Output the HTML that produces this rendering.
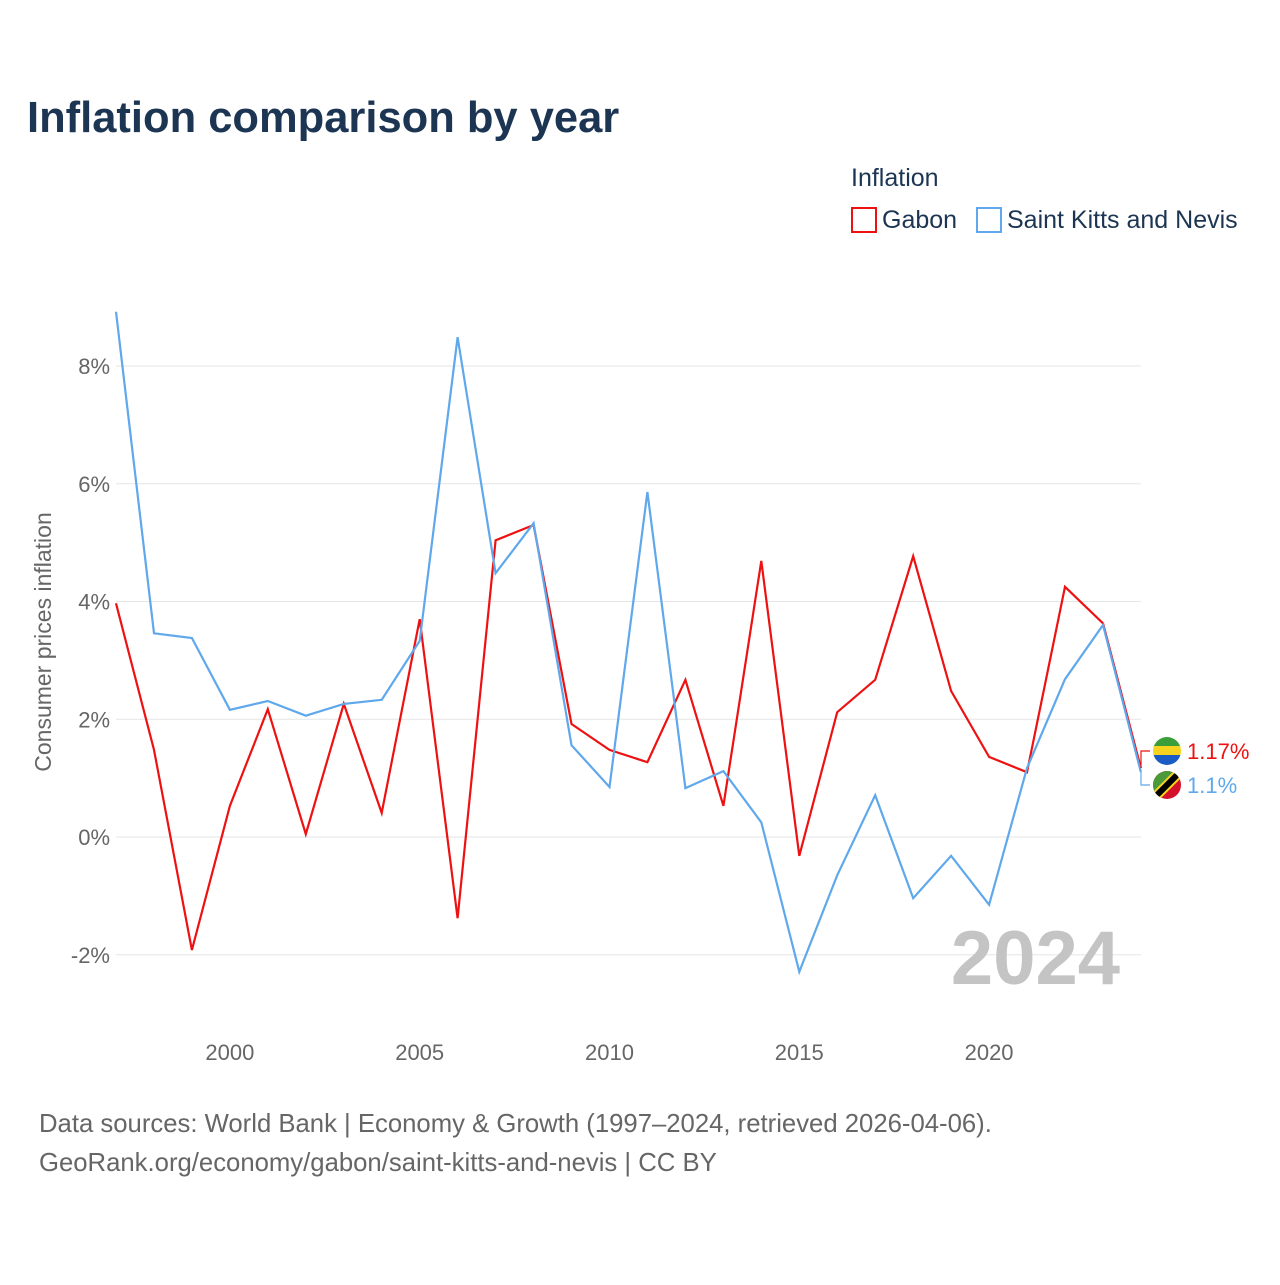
<!DOCTYPE html>
<html><head><meta charset="utf-8"><style>
html,body{margin:0;padding:0;background:#fff;}
body{width:1280px;height:1280px;overflow:hidden;font-family:"Liberation Sans",sans-serif;}
svg text{font-family:"Liberation Sans",sans-serif;}
</style></head><body>
<svg id="chart" width="1280" height="1280" viewBox="0 0 1280 1280">
<text x="27" y="132" font-size="43.5" font-weight="bold" fill="#1c3553">Inflation comparison by year</text>
<text x="851" y="186" font-size="25" fill="#1c3553">Inflation</text>
<g><rect x="852" y="208" width="24" height="24" fill="none" stroke="#ee1111" stroke-width="2"/><text x="882" y="228" font-size="25" fill="#1c3553">Gabon</text></g>
<g><rect x="977" y="208" width="24" height="24" fill="none" stroke="#5fa8ec" stroke-width="2"/><text x="1007" y="228" font-size="25" fill="#1c3553">Saint Kitts and Nevis</text></g>
<text transform="translate(51,642) rotate(-90)" text-anchor="middle" font-size="23" fill="#666">Consumer prices inflation</text>
<g id="grid"></g><g id="ylab"></g><g id="xlab"></g><g id="lines"></g>
<text x="1120" y="984" text-anchor="end" font-size="76" font-weight="bold" fill="#c4c4c4">2024</text>
<text x="39" y="1132" font-size="25.7" fill="#666">Data sources: World Bank | Economy &amp; Growth (1997–2024, retrieved 2026-04-06).</text>
<text x="39" y="1171" font-size="25.7" fill="#666">GeoRank.org/economy/gabon/saint-kitts-and-nevis | CC BY</text>
</svg>
<script>
const years=[1997,1998,1999,2000,2001,2002,2003,2004,2005,2006,2007,2008,2009,2010,2011,2012,2013,2014,2015,2016,2017,2018,2019,2020,2021,2022,2023,2024];
const gabon=[3.97,1.48,-1.92,0.53,2.17,0.05,2.26,0.41,3.70,-1.38,5.04,5.30,1.92,1.48,1.27,2.67,0.53,4.69,-0.32,2.12,2.67,4.77,2.48,1.36,1.10,4.25,3.63,1.17];
const skn=[8.92,3.46,3.38,2.16,2.31,2.06,2.26,2.33,3.33,8.49,4.48,5.33,1.56,0.85,5.86,0.83,1.12,0.25,-2.29,-0.65,0.71,-1.04,-0.32,-1.15,1.17,2.68,3.60,1.1];
const yTicks=[-2,0,2,4,6,8];
const xTicks=[2000,2005,2010,2015,2020];
const X=y=>116+(y-1997)*37.96;
const Y=v=>837-v*58.875;
const NS="http://www.w3.org/2000/svg";
function mk(t,a,p){const e=document.createElementNS(NS,t);for(const k in a)e.setAttribute(k,a[k]);document.getElementById(p).appendChild(e);return e;}
yTicks.forEach(v=>{
 const l=mk('line',{x1:116,x2:1141,y1:Y(v),y2:Y(v),stroke:'#e6e6e6','stroke-width':1},'grid');
 
 
 const t=mk('text',{x:110,y:Y(v)+8,'text-anchor':'end','font-size':22,fill:'#666'},'ylab');
 t.textContent=v+'%';
 
 
});
xTicks.forEach(v=>{
 const t=mk('text',{x:X(v),y:1060,'text-anchor':'middle','font-size':22,fill:'#666'},'xlab');
 t.textContent=v;
 
 
});
function line(vals,color,name){
 const d=vals.map((v,i)=>(i?'L':'M')+X(years[i]).toFixed(1)+','+Y(v).toFixed(1)).join('');
 const p=mk('path',{d:d,fill:'none',stroke:color,'stroke-width':2.2,'stroke-linejoin':'miter'},'lines');
 
 
}
line(gabon,'#ee1111','gabon-line');
line(skn,'#5fa8ec','saint-kitts-line');
const gl=gabon[gabon.length-1], sl=skn[skn.length-1];
const gy=751, sy=785;
mk('path',{d:`M1141,${Y(gl)}L1141,${gy}L1150,${gy}`,fill:'none',stroke:'#ee1111','stroke-width':1.2},'lines');
mk('path',{d:`M1141,${Y(sl)}L1141,${sy}L1150,${sy}`,fill:'none',stroke:'#5fa8ec','stroke-width':1.2},'lines');
const f1=mk('g',{},'lines');


f1.innerHTML=`<clipPath id="c1"><circle cx="1167" cy="${gy}" r="14"/></clipPath><g clip-path="url(#c1)"><rect x="1153" y="${gy-14}" width="28" height="10" fill="#3a9e3a"/><rect x="1153" y="${gy-5}" width="28" height="10" fill="#f7d21e"/><rect x="1153" y="${gy+4}" width="28" height="10" fill="#1a5bc4"/></g>`;
const f2=mk('g',{},'lines');


f2.innerHTML=`<clipPath id="c2"><circle cx="1167" cy="${sy}" r="14"/></clipPath><g clip-path="url(#c2)"><rect x="1153" y="${sy-14}" width="28" height="28" fill="#d4102b"/><path d="M1153,${sy-14}L1181,${sy-14}L1153,${sy+14}Z" fill="#4a9a3a"/><path d="M1181,${sy-14}L1153,${sy+14}" stroke="#f7d21e" stroke-width="10"/><path d="M1181,${sy-14}L1153,${sy+14}" stroke="#000" stroke-width="6"/></g>`;
const t1=mk('text',{x:1187,y:gy+8,'font-size':22,fill:'#ee1111'},'lines');
t1.textContent=gl+'%';


const t2=mk('text',{x:1187,y:sy+8,'font-size':22,fill:'#5fa8ec'},'lines');
t2.textContent=sl+'%';


</script>
</body></html>
